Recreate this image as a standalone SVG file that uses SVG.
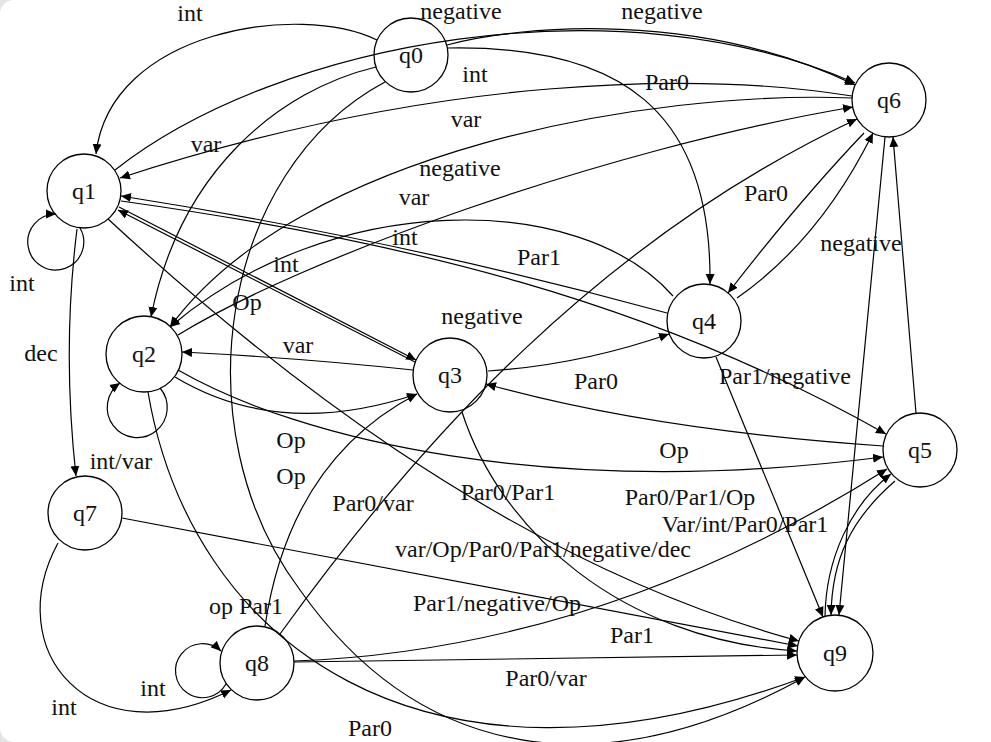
<svg xmlns="http://www.w3.org/2000/svg" width="991" height="742" viewBox="0 0 991 742">
<defs>
<style>
.n{fill:#fff;stroke:#000;stroke-width:1.3}
.e{fill:none;stroke:#000;stroke-width:1.2}
.a{marker-end:url(#ah)}
text{font-family:"Liberation Serif","Times New Roman",serif;font-size:24px;fill:#111;text-anchor:middle}
</style>
<marker id="ah" viewBox="0 0 10 10" refX="10" refY="5" markerWidth="10" markerHeight="10" markerUnits="userSpaceOnUse" orient="auto"><path d="M0,0.5 L10,5 L0,9.5 z" fill="#000"/></marker>
</defs>
<rect x="0" y="0" width="991" height="742" fill="#e4e4e4"/>
<rect x="0" y="0" width="1020" height="742" rx="14" fill="#fff"/>

<g id="nodes" font-family="'Liberation Serif', 'Times New Roman', serif">
<g id="q0"><circle class="n" cx="411" cy="55" r="37"/><text x="411" y="63">q0</text></g>
<g id="q1"><circle class="n" cx="84" cy="191" r="37"/><text x="84" y="199">q1</text></g>
<g id="q2"><circle class="n" cx="144" cy="354" r="38"/><text x="144" y="362">q2</text></g>
<g id="q3"><circle class="n" cx="450" cy="375" r="37"/><text x="450" y="383">q3</text></g>
<g id="q4"><circle class="n" cx="704" cy="321" r="37"/><text x="704" y="329">q4</text></g>
<g id="q5"><circle class="n" cx="920" cy="450" r="37"/><text x="920" y="458">q5</text></g>
<g id="q6"><circle class="n" cx="889" cy="100" r="37"/><text x="889" y="108">q6</text></g>
<g id="q7"><circle class="n" cx="85" cy="513" r="37"/><text x="85" y="521">q7</text></g>
<g id="q8"><circle class="n" cx="257" cy="663" r="37"/><text x="257" y="671">q8</text></g>
<g id="q9"><circle class="n" cx="835" cy="653" r="38"/><text x="835" y="661">q9</text></g>
</g>

<g id="connectors">
<path class="e a" d="M377,40 C300,2 110,30 96,154"/>
<path class="e a" d="M447,45 C520,25 700,10 855,85"/>
<path class="e a" d="M115,170 C280,40 620,-20 855,83"/>
<path class="e a" d="M448,48 C620,45 712,110 710,284"/>
<path class="e a" d="M852,96 C700,72 440,74 120,178"/>
<path class="e a" d="M852,98 C650,90 300,150 170,327"/>
<path class="e a" d="M178,335 C300,260 600,150 853,107"/>
<path class="e a" d="M280,634 C420,440 600,240 857,119"/>
<path class="e a" d="M864,133 Q800,200 728,293"/>
<path class="e a" d="M737,298 Q820,240 873,133"/>
<path class="e a" d="M885,137 L839,615"/>
<path class="e a" d="M916,413 L893,137"/>
<path class="e a" d="M673,296 C580,190 330,190 170,327"/>
<path class="e a" d="M667,313 Q400,240 121,196"/>
<path class="e a" d="M121,201 C400,240 650,300 886,434"/>
<path class="e a" d="M119,207 L416,360"/>
<path class="e a" d="M415,362 L118,210"/>
<path class="e a" d="M413,370 Q300,358 182,352"/>
<path class="e a" d="M175,377 Q280,440 417,394"/>
<path class="e a" d="M178,370 C300,440 550,500 883,457"/>
<path class="e a" d="M883,446 Q650,430 486,384"/>
<path class="e a" d="M488,371 Q580,365 669,334"/>
<path class="e a" d="M716,357 L823,617"/>
<path class="e a" d="M462,412 C500,530 620,640 797,651"/>
<path class="e a" d="M108,219 C250,350 500,560 799,641"/>
<path class="e a" d="M122,518 L798,646"/>
<path class="e a" d="M58,543 C0,650 90,760 231,690"/>
<path class="e a" d="M226,684 A27,27 0 1,1 221,651"/>
<path class="e a" d="M80,228 A28,28 0 1,1 56,214"/>
<path class="e a" d="M77,229 Q62,350 76,476"/>
<path class="e a" d="M160,388 A30,30 0 1,1 120,383"/>
<path class="e a" d="M148,392 C190,640 420,820 805,677"/>
<path class="e a" d="M385,82 C220,170 180,430 300,590 C420,760 600,790 805,677"/>
<path class="e a" d="M376,67 C280,90 180,170 151,317"/>
<path class="e a" d="M265,626 Q290,460 417,394"/>
<path class="e a" d="M294,662 L797,655"/>
<path class="e a" d="M294,661 Q600,650 887,469"/>
<path class="e a" d="M895,481 C850,520 832,560 831,615"/>
<path class="e a" d="M825,616 C826,560 850,505 891,474"/>
</g>

<g id="labels" font-family="'Liberation Serif', 'Times New Roman', serif">
<text x="190" y="21">int</text>
<text x="461" y="19">negative</text>
<text x="662" y="19">negative</text>
<text x="475" y="82">int</text>
<text x="667" y="90">Par0</text>
<text x="206" y="152">var</text>
<text x="466" y="127">var</text>
<text x="460" y="176">negative</text>
<text x="414" y="205">var</text>
<text x="766" y="201">Par0</text>
<text x="405" y="245">int</text>
<text x="286" y="272">int</text>
<text x="539" y="265">Par1</text>
<text x="861" y="251">negative</text>
<text x="22" y="291">int</text>
<text x="247" y="310">Op</text>
<text x="482" y="324">negative</text>
<text x="41" y="361">dec</text>
<text x="298" y="353">var</text>
<text x="596" y="389">Par0</text>
<text x="785" y="384">Par1/negative</text>
<text x="291" y="448">Op</text>
<text x="291" y="484">Op</text>
<text x="674" y="458">Op</text>
<text x="121" y="469">int/var</text>
<text x="373" y="511">Par0/var</text>
<text x="508" y="500">Par0/Par1</text>
<text x="690" y="505">Par0/Par1/Op</text>
<text x="745" y="532">Var/int/Par0/Par1</text>
<text x="543" y="557">var/Op/Par0/Par1/negative/dec</text>
<text x="246" y="614">op Par1</text>
<text x="497" y="611">Par1/negative/Op</text>
<text x="632" y="643">Par1</text>
<text x="153" y="696">int</text>
<text x="64" y="715">int</text>
<text x="546" y="686">Par0/var</text>
<text x="370" y="736">Par0</text>
</g>
</svg>
